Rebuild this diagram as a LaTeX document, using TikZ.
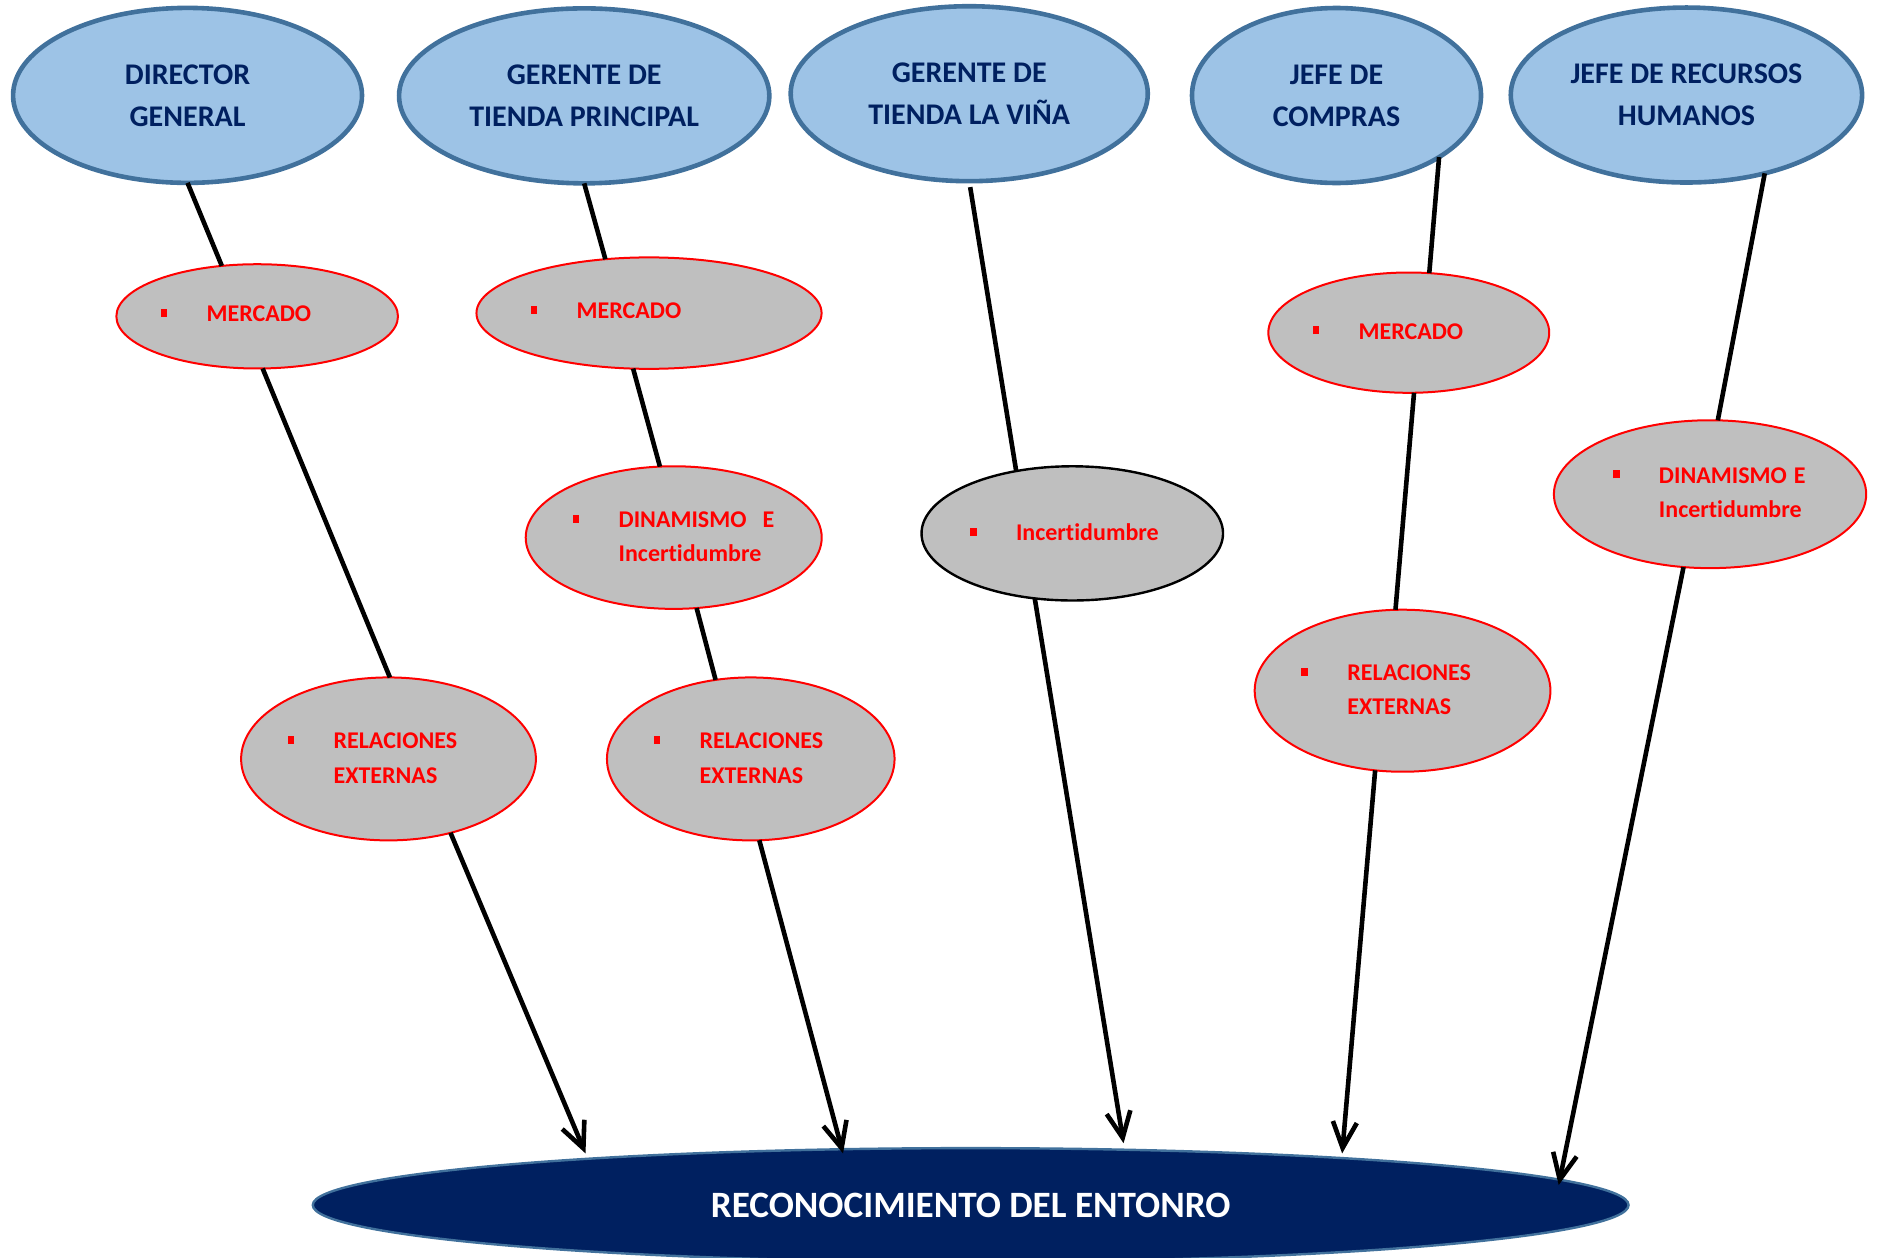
\documentclass[tikz,border=0pt]{standalone}
\usepackage{fontspec}
\setmainfont{Carlito}[Ligatures=NoCommon]
\usetikzlibrary{shapes.geometric,arrows.meta,calc}

\definecolor{rolefill}{HTML}{9DC3E6}
\definecolor{roleline}{HTML}{41719C}
\definecolor{navy}{HTML}{002060}
\definecolor{factorfill}{HTML}{BFBFBF}

% small red square bullet followed by the label column
\newcommand\factorbul{\makebox[23pt][l]{\raisebox{2.5pt}{\rule{3.4pt}{4pt}}}}
\newcommand\factorone[1]{\begin{tabular}[t]{@{}l@{}l@{}}\factorbul&#1\end{tabular}}
\newcommand\factortwo[2]{\begin{tabular}[t]{@{}l@{}l@{}}\factorbul&#1\\&#2\end{tabular}}

\tikzset{
  role/.style={ellipse, draw=roleline, line width=2.3pt, fill=rolefill, text=navy,
    font=\fontsize{15}{21}\selectfont\bfseries, align=center, inner sep=0pt, outer sep=0pt},
  factor/.style={ellipse, draw=red, line width=1pt, fill=factorfill, inner sep=0pt, outer sep=0pt},
  factortext/.style={anchor=base west, inner sep=0pt, outer sep=0pt, text=red,
    font=\fontsize{12}{17.2}\selectfont\bfseries},
  link/.style={line width=2.3pt, draw=black},
  tolink/.style={link, -{Straight Barb[length=13pt, width=12pt]}},
  goal/.style={ellipse, draw=roleline, line width=1.2pt, fill=navy, text=white,
    font=\fontsize{18.6}{22}\selectfont\bfseries, inner sep=0pt, outer sep=0pt}
}

\begin{document}
\begin{tikzpicture}[x=0.59915pt, y=-0.59915pt]
\useasboundingbox (0,0) rectangle (1568,1049);

% roles
\node[role, minimum width=174.47pt, minimum height=87.48pt] (dg)  at (156.5,79.6) {DIRECTOR\\GENERAL};
\node[role, minimum width=185.14pt, minimum height=87.48pt] (gtp) at (487.5,80)   {GERENTE DE\\TIENDA PRINCIPAL};
\node[role, minimum width=178.55pt, minimum height=87.48pt] (glv) at (808.8,78.2) {GERENTE DE\\TIENDA LA VIÑA};
\node[role, minimum width=144.52pt, minimum height=87.48pt] (jc)  at (1115.3,79.7) {JEFE DE\\COMPRAS};
\node[role, minimum width=175.67pt, minimum height=87.48pt] (jrh) at (1407.3,79.3) {JEFE DE RECURSOS\\HUMANOS};

% factors
\node[factor, minimum width=140.80pt, minimum height=52.13pt] (m1)  at (214.6,264) {};
\node[factor, minimum width=147.39pt, minimum height=81.48pt] (re1) at (324.2,633.3) {};
\node[factor, minimum width=172.56pt, minimum height=55.72pt] (m2)  at (541.6,261.3) {};
\node[factor, minimum width=147.99pt, minimum height=71.30pt] (dn2) at (562.2,448.6) {};
\node[factor, minimum width=143.80pt, minimum height=81.48pt] (re2) at (626.5,633.3) {};
\node[factor, draw=black, line width=1.2pt, minimum width=150.75pt, minimum height=67.10pt] (inc3) at (894.8,445.1) {};
\node[factor, minimum width=140.44pt, minimum height=60.15pt] (m4)  at (1175.6,277.6) {};
\node[factor, minimum width=147.87pt, minimum height=81.01pt] (re4) at (1170.4,576.4) {};
\node[factor, minimum width=156.14pt, minimum height=73.94pt] (dn5) at (1427,412.4) {};

% factor labels
\node[factortext] (t-m1)   at (134,268.5)  {\factorone{MERCADO}};
\node[factortext] (t-re1)  at (240,624.8)  {\factortwo{RELACIONES}{EXTERNAS}};
\node[factortext] (t-m2)   at (442.8,266.1) {\factorone{MERCADO}};
\node[factortext] (t-dn2)  at (477.9,440.2) {\factortwo{DINAMISMO\hspace{8pt}E}{Incertidumbre}};
\node[factortext] (t-re2)  at (545.4,624.8) {\factortwo{RELACIONES}{EXTERNAS}};
\node[factortext] (t-inc3) at (809.5,451.4) {\factorone{Incertidumbre}};
\node[factortext] (t-m4)   at (1095.3,283.1) {\factorone{MERCADO}};
\node[factortext] (t-re4)  at (1086,567.9) {\factortwo{RELACIONES}{EXTERNAS}};
\node[factortext] (t-dn5)  at (1346,403.4) {\factortwo{DINAMISMO\hspace{3.5pt}E}{Incertidumbre}};

% target
\node[goal, minimum width=657.87pt, minimum height=56.92pt] (goal) at (810,1005.6) {RECONOCIMIENTO DEL ENTONRO};

% arrow tips on the rim of the target
\coordinate (in1) at ($(goal.center)+(-321.4,-43.1)$);
\coordinate (in2) at ($(goal.center)+(-106.5,-43.1)$);
\coordinate (in3) at ($(goal.center)+(127.6,-51.6)$);
\coordinate (in4) at ($(goal.center)+(310,-43.1)$);
\coordinate (in5) at ($(goal.center)+(490.7,-16.7)$);

% connectors
\draw[link]   (dg.south) -- (m1.125);
\draw[link]   (m1.-84)   -- (re1.89);
\draw[tolink] (re1.-50)  -- (in1);

\draw[link]   (gtp.south) -- (m2.129);
\draw[link]   (m2.-106)   -- (dn2.101.5);
\draw[link]   (dn2.-72)   -- (re2.114);
\draw[tolink] (re2.-84)   -- (in2);

\draw[link, shorten <=3pt] (glv.south) -- (inc3.132);
\draw[tolink] (inc3.-120) -- (in3);

\draw[link]   (jc.-31)    -- (m4.71);
\draw[link]   (m4.-85)    -- (re4.95);
\draw[tolink] (re4.-109)  -- (in4);

\draw[link]   (jrh.-45)   -- (dn5.84);
\draw[tolink] (dn5.-110)  -- (in5);
\end{tikzpicture}
\end{document}
